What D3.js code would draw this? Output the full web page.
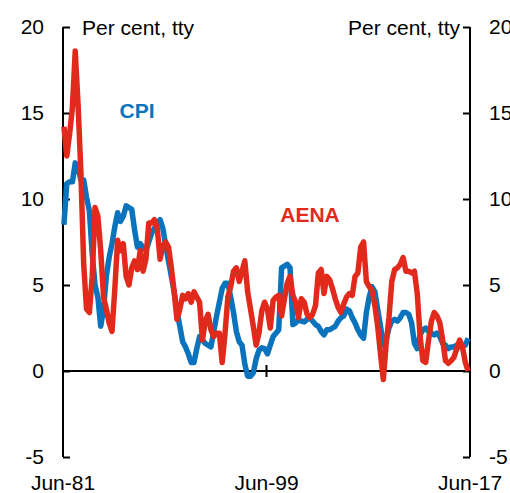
<!DOCTYPE html>
<html>
<head>
<meta charset="utf-8">
<script src="https://cdn.jsdelivr.net/npm/d3@7"></script>
<style>
  body { margin: 0; background: #fff; }
  svg { display: block; font-family: "Liberation Sans", Arial, sans-serif; }
</style>
</head>
<body>
<div id="chart"></div>
<script>
// quarterly, Jun-81 .. Jun-17 (145 quarters)
const startDate = new Date(1981, 5, 1);
const endDate = new Date(2017, 5, 1);
const quarters = d3.timeMonth.every(3).range(startDate, d3.timeMonth.offset(endDate, 1));

// CPI, year-ended % change
const cpi = [
  8.5, 10.9, 11.0, 11.0, 12.1, 11.8, 11.1, 11.1, 10.1, 9.3,
  6.8, 5.0, 4.3, 2.6, 3.6, 5.5, 6.6, 7.4, 8.4, 9.2,
  8.7, 9.0, 9.6, 9.5, 9.4, 8.2, 7.2, 7.4, 7.2, 7.0,
  7.5, 8.0, 8.3, 8.5, 8.8, 8.3, 7.3, 6.4, 5.5, 4.6,
  3.5, 2.6, 1.7, 1.4, 1.0, 0.5, 0.5, 1.3, 2.0, 1.8,
  1.6, 1.5, 1.4, 2.3, 3.2, 4.0, 4.8, 5.1, 5.1, 4.3,
  3.4, 2.3, 1.7, 1.5, 0.4, -0.3, -0.3, -0.1, 0.7, 1.2,
  1.35, 1.3, 1.0, 1.5, 2.0, 2.2, 2.4, 6.0, 6.1, 6.2,
  6.0, 2.7, 2.8, 3.0, 2.9, 2.85, 3.0, 3.1, 2.9, 2.7,
  2.6, 2.3, 2.1, 2.4, 2.4, 2.5, 2.6, 2.9, 3.1, 3.2,
  3.6, 3.5, 3.1, 2.8, 2.4, 2.1, 1.9, 3.4, 4.3, 4.9,
  4.6, 3.6, 2.6, 1.5, 1.8, 2.5, 2.9, 3.0, 2.9, 3.1,
  3.4, 3.4, 3.3, 2.8, 1.6, 1.3, 2.1, 2.4, 2.5, 2.3,
  2.2, 2.1, 2.2, 2.0, 1.6, 1.5, 1.3, 1.4, 1.4, 1.5,
  1.4, 1.5, 1.5, 1.9, 2.0
];

// Average earnings, national accounts basis, year-ended % change
const aena = [
  14.2, 12.5, 13.8, 15.3, 18.6, 15.5, 11.5, 6.2, 3.6, 3.4,
  5.5, 9.5, 9.0, 7.0, 4.3, 3.6, 2.8, 2.3, 4.8, 7.6,
  7.0, 7.4, 5.5, 5.0, 6.0, 6.4, 5.9, 7.0, 5.8, 6.5,
  8.6, 8.6, 8.8, 8.3, 6.5, 7.3, 7.5, 7.2, 6.0, 4.6,
  3.0, 3.6, 4.4, 4.2, 4.5, 4.0, 4.6, 4.3, 4.0, 1.8,
  2.9, 3.3, 2.4, 2.0, 2.2, 2.2, 0.5, 2.2, 4.3, 4.9,
  5.8, 6.0, 5.2, 5.8, 6.4, 4.6, 3.6, 2.6, 1.5, 2.2,
  3.5, 4.0, 3.6, 2.5, 4.1, 4.3, 4.4, 3.2, 4.2, 5.1,
  5.5, 4.4, 4.0, 3.1, 4.2, 4.0, 3.3, 3.1, 3.3, 3.8,
  5.7, 5.9, 4.5, 5.5, 5.3, 4.8, 4.2, 3.7, 3.4, 3.9,
  4.3, 4.5, 4.4, 5.5, 5.7, 7.2, 7.5, 5.2, 4.9, 4.7,
  3.8, 2.6, 1.0, -0.5, 1.6, 3.1, 5.2, 5.9, 6.0, 6.2,
  6.6, 5.8, 5.8, 5.7, 5.8, 4.5, 2.0, 0.6, 0.5, 1.8,
  2.9, 3.4, 3.2, 2.8, 1.8, 0.6, 0.45, 0.6, 0.8, 1.3,
  1.8, 1.4, 0.5, 0.0, -0.05
];

const yTicks = [-5, 0, 5, 10, 15, 20];
const xTickDates = [new Date(1981, 5, 1), new Date(1999, 5, 1), new Date(2017, 5, 1)];

const width = 510, height = 493;
const plotLeft = 63, plotRight = 470, plotTop = 27, plotBottom = 457;
const fontSize = 21;

const svg = d3.select("#chart").append("svg")
  .attr("width", width)
  .attr("height", height);

const x = d3.scaleTime().domain([startDate, endDate]).range([plotLeft, plotRight]);
const y = d3.scaleLinear().domain([-5, 20]).range([plotBottom, plotTop]);

const fmt = d3.timeFormat("%b-%y");

// zero line
svg.append("line")
  .attr("x1", plotLeft).attr("x2", plotRight)
  .attr("y1", y(0)).attr("y2", y(0))
  .attr("stroke", "#000").attr("stroke-width", 2);

// Jun-99 tick on the zero line
svg.append("line")
  .attr("x1", x(xTickDates[1])).attr("x2", x(xTickDates[1]))
  .attr("y1", y(0) - 6).attr("y2", y(0) + 6)
  .attr("stroke", "#000").attr("stroke-width", 2);

// left and right axes, ticks inside
const leftAxis = svg.append("g")
  .attr("transform", `translate(${plotLeft},0)`)
  .call(d3.axisRight(y).tickValues(yTicks).tickSize(7).tickFormat(""));
const rightAxis = svg.append("g")
  .attr("transform", `translate(${plotRight},0)`)
  .call(d3.axisLeft(y).tickValues(yTicks).tickSize(7).tickFormat(""));
[leftAxis, rightAxis].forEach(g => {
  g.select(".domain").attr("stroke-width", 2).attr("d", `M0,${plotTop}V${plotBottom}`);
  g.selectAll(".tick line").attr("stroke-width", 2);
});

// tick labels
svg.append("g").selectAll("text")
  .data(yTicks)
  .join("text")
  .attr("x", plotLeft - 19)
  .attr("y", d => y(d))
  .attr("dy", "0.35em")
  .attr("text-anchor", "end")
  .attr("font-size", fontSize)
  .text(d => d);

svg.append("g").selectAll("text")
  .data(yTicks)
  .join("text")
  .attr("x", plotRight + 19)
  .attr("y", d => y(d))
  .attr("dy", "0.35em")
  .attr("text-anchor", "start")
  .attr("font-size", fontSize)
  .text(d => d);

svg.append("g").selectAll("text")
  .data(xTickDates)
  .join("text")
  .attr("x", d => x(d))
  .attr("y", 490)
  .attr("text-anchor", "middle")
  .attr("font-size", fontSize)
  .text(d => fmt(d));

// units
svg.append("text")
  .attr("x", plotLeft + 19).attr("y", 35)
  .attr("font-size", fontSize)
  .text("Per cent, tty");
svg.append("text")
  .attr("x", plotRight - 10).attr("y", 35)
  .attr("text-anchor", "end")
  .attr("font-size", fontSize)
  .text("Per cent, tty");

// lines
const line = d3.line()
  .x((d, i) => x(quarters[i]))
  .y(d => y(d));

svg.append("path")
  .datum(cpi)
  .attr("fill", "none")
  .attr("stroke", "#0a73bd")
  .attr("stroke-width", 5.5)
  .attr("stroke-linejoin", "round")
  .attr("d", line);

svg.append("path")
  .datum(aena)
  .attr("fill", "none")
  .attr("stroke", "#e22a1c")
  .attr("stroke-width", 5.5)
  .attr("stroke-linejoin", "round")
  .attr("d", line);

// series labels
svg.append("text")
  .attr("x", 137).attr("y", 118)
  .attr("text-anchor", "middle")
  .attr("font-size", fontSize)
  .attr("font-weight", "bold")
  .attr("fill", "#0a73bd")
  .text("CPI");
svg.append("text")
  .attr("x", 310).attr("y", 222)
  .attr("text-anchor", "middle")
  .attr("font-size", fontSize)
  .attr("font-weight", "bold")
  .attr("fill", "#e22a1c")
  .text("AENA");
</script>
</body>
</html>
